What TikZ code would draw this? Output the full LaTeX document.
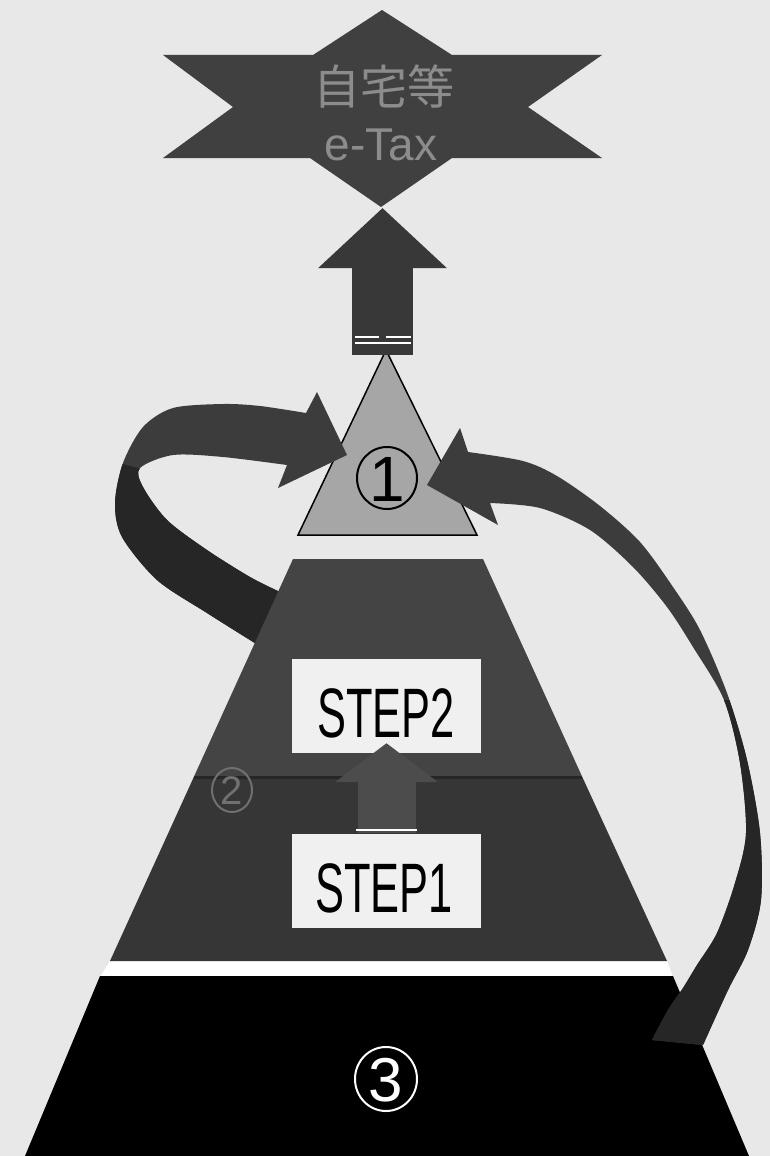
\documentclass[tikz,border=0pt]{standalone}
\usepackage{fontspec}
\usepackage{graphicx}
\setmainfont{Liberation Sans}
\newfontfamily\jpfont{Noto Sans CJK JP}
\usetikzlibrary{arrows.meta,calc}
\definecolor{bgc}{HTML}{E8E8E8}
\definecolor{starc}{HTML}{404040}
\definecolor{startext}{HTML}{8C8C8C}
\definecolor{arrc}{HTML}{383838}
\definecolor{tric}{HTML}{A6A6A6}
\definecolor{ribc}{HTML}{3C3C3C}
\definecolor{ribdark}{HTML}{262626}
\definecolor{pyrup}{HTML}{444444}
\definecolor{pyrlow}{HTML}{363636}
\definecolor{boxc}{HTML}{F0F0F0}
\definecolor{smallarr}{HTML}{4C4C4C}
\definecolor{twoc}{HTML}{707070}
\tikzset{
  stepbox/.style={fill=boxc, draw=none, minimum width=189pt, minimum height=94pt, inner sep=0pt},
  steptext/.style={anchor=base, inner sep=0pt, font=\fontsize{70}{70}\selectfont},
  bigtip/.style={line width=61pt, -{Triangle[length=60pt,width=125pt]}, draw=arrc},
  smalltip/.style={line width=58pt, -{Triangle[length=39pt,width=101pt]}, draw=smallarr}
}
\begin{document}
\begin{tikzpicture}[x=1pt,y=-1pt]
\useasboundingbox (0,0) rectangle (770,1156);
\fill[bgc] (0,0) rectangle (770,1156);

% star
\fill[starc] (163,55) -- (313,55) -- (382,10) -- (452,55) -- (602,55) -- (528,107)
  -- (602,158) -- (452,158) -- (381,207) -- (310,158) -- (163,158) -- (233,107) -- cycle;
\node[anchor=base, inner sep=0pt, text=startext, font=\jpfont\fontsize{47}{47}\selectfont] (jtxt) at (384,104) {自宅等};
\node[anchor=base, inner sep=0pt, text=startext, font=\fontsize{46}{46}\selectfont] (etax) at (381,160) {e-Tax};

% triangle 1
\coordinate (apex) at (386,350);
\filldraw[fill=tric, draw=black, line width=1.5pt] (apex) -- (477,535) -- (298,535) -- cycle;
\draw[line width=2pt] (387,478) ellipse [x radius=30pt, y radius=31pt];
\node[anchor=base, inner sep=0pt, font=\fontsize{64}{64}\selectfont] (one) at (387,501) {1};

% up arrow
\coordinate (upstart) at (382.5,355);
\coordinate (uptip) at (382.5,208);
\draw[bigtip] (upstart) -- (uptip);
\draw[white, line width=1.5pt] (355,337) -- (379,337) (386,337) -- (411,337) (355,343) -- (411,343);

% white gap and block 3
\fill[white] (110,961) -- (667,961) -- (673,977) -- (100,977) -- cycle;
\fill[black] (100,976) -- (673,976) -- (749,1156) -- (25,1156) -- cycle;
\draw[white, line width=2pt] (386,1079) ellipse [x radius=31pt, y radius=32pt];
\node[anchor=base, inner sep=0pt, text=white, font=\fontsize{62}{62}\selectfont] (three) at (386,1101) {3};

% left ribbon
\begin{scope}
\clip (347,455) -- (317,392) -- (306,413) -- plot[smooth] coordinates {(306,413) (260,406) (223,404) (173,408) (143,427) (123,463) (115,503) (122,537) (157,580) (207,613) (258,645)}
  -- (300,650) -- (300,590) -- plot[smooth] coordinates {(280,592) (250,577) (207,550) (167,520) (143,487) (140,468) (173,455) (223,457) (287,465)} -- (278,488) -- cycle;
\fill[ribc] (0,300) rectangle (400,700);
\fill[ribdark] (100,458) -- (145,470) -- (320,570) -- (320,700) -- (100,700) -- cycle;
\end{scope}

% right ribbon
\begin{scope}
\clip (427,485) -- (460,428) -- (468,452) -- plot[smooth] coordinates {(468,452) (523,461) (557,476) (600,506) (640,542) (673,587) (700,630) (727,693) (747,760) (760,833) (761,900) (748,950) (728,990) (703,1045)}
  -- (652,1040) -- plot[smooth] coordinates {(652,1040) (668,1010) (683,988) (697,965) (717,933) (735,883) (746,833) (740,763) (724,700) (693,647) (667,607) (633,567) (590,530) (540,508) (490,503)} -- (498,525) -- cycle;
\fill[ribc] (400,400) rectangle (770,1100);
\fill[ribdark] (700,700) rectangle (770,1100) (640,940) rectangle (770,1100);
\end{scope}

% pyramid
\fill[pyrup] (293,559) -- (483,559) -- (582.3,777) -- (193.8,777) -- cycle;
\fill[pyrlow] (193.8,777) -- (582.3,777) -- (667,961) -- (110,961) -- cycle;
\draw[black!85, line width=3pt] (193.8,777) -- (582.3,777);

% boxes
\node[stepbox] (s2box) at (386.5,706) {};
\node[stepbox] (s1box) at (386.5,880.5) {};
\draw[smalltip] (s1box.north) -- ($(s2box.south)+(0,-10)$);
\draw[white, line width=1.2pt] (356,830) -- (417,830);
\node[steptext] (t2) at (386,737) {\scalebox{0.62}[1]{STEP2}};
\node[steptext] (t1) at (384,912) {\scalebox{0.62}[1]{STEP1}};

% circled 2
\draw[twoc, line width=2pt] (232,790) ellipse [x radius=20pt, y radius=22pt];
\node[anchor=base, inner sep=0pt, text=twoc, font=\fontsize{40}{40}\selectfont] (two) at (232,804) {2};
\end{tikzpicture}
\end{document}
